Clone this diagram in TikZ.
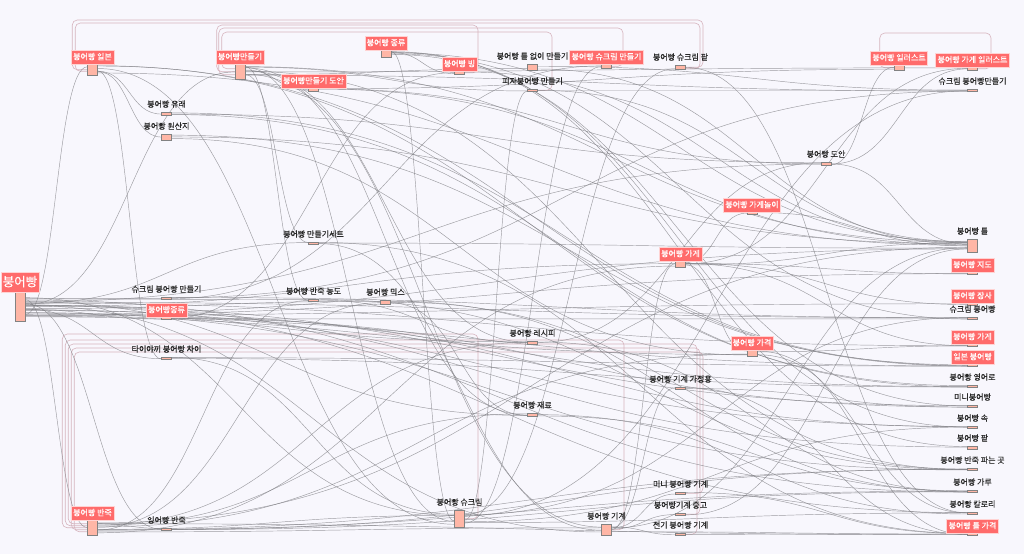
\documentclass[tikz,border=0pt]{standalone}
\usepackage{fontspec}
\setmainfont{Noto Sans CJK KR}
\newfontfamily\lblfont[FakeBold=0.35]{Noto Sans CJK KR}
\usetikzlibrary{calc}
\definecolor{bgc}{RGB}{248,247,253}
\definecolor{lred}{RGB}{255,107,107}
\definecolor{rfill}{RGB}{255,182,166}
\definecolor{rdraw}{RGB}{130,130,130}
\definecolor{edgec}{RGB}{125,125,130}
\definecolor{loopc}{RGB}{214,180,190}
\definecolor{txt}{RGB}{40,40,40}
\pgfdeclarelayer{bgl}
\pgfdeclarelayer{edl}
\pgfsetlayers{bgl,edl,main}
\tikzset{
 box/.style={draw=rdraw, fill=rfill, line width=0.5pt, minimum width=10pt, inner sep=0pt, anchor=north},
 redlbl/.style={fill=lred, draw=white!70!lred, line width=0.4pt, text=white, font=\lblfont\fontsize{8}{9}\selectfont, text height=6.6pt, text depth=1.2pt, inner xsep=2pt, inner ysep=3pt, anchor=south},
 blklbl/.style={text=txt, font=\lblfont\fontsize{8}{9}\selectfont, text height=6.6pt, text depth=1.2pt, inner sep=1pt, anchor=south, yshift=2.5pt},
 biglbl/.style={redlbl, font=\lblfont\fontsize{12.5}{13}\selectfont, text height=10.5pt, text depth=1.5pt, inner xsep=1.5pt, inner ysep=4pt},
 lnk/.style={draw=edgec, line width=0.45pt, opacity=0.75},
 loopln/.style={draw=loopc, line width=0.6pt, rounded corners=5pt},
}
\newcommand\nd[6]{\node[box,minimum height=#4pt] (#1) at (#2,#3) {}; \node[#6] (#1l) at (#1.north) {#5};}
\newcommand\lk[2]{\draw[lnk] let \p1=($(#1.north east)!0.15+0.7*rnd!(#1.south east)$), \p2=($(#2.north west)!0.15+0.7*rnd!(#2.south west)$) in (\p1) .. controls ({0.5*\x1+0.5*\x2},\y1) and ({0.5*\x1+0.5*\x2},\y2) .. (\p2);}
\begin{document}
\begin{tikzpicture}[x=1pt,y=-1pt]
\pgfmathsetseed{7}
\begin{pgfonlayer}{bgl}
\fill[bgc] (0,0) rectangle (1024,554);
\end{pgfonlayer}
\useasboundingbox (0,0) rectangle (1024,554);
% nodes
\nd{n1}{20}{292}{29}{붕어빵}{biglbl}
\nd{n2}{92.5}{64}{11}{붕어빵 일본}{redlbl}
\nd{n3}{240}{64}{15}{붕어빵만들기}{redlbl}
\nd{n4}{386}{50}{7}{붕어빵 종류}{redlbl}
\nd{n5}{313.5}{88}{3}{붕어빵만들기 도안}{redlbl}
\nd{n6}{459.5}{71}{3}{붕어빵 빙}{redlbl}
\nd{n7}{532.5}{64}{6}{붕어빵 틀 없이 만들기}{blklbl}
\nd{n8}{532.5}{89}{2}{피자붕어빵 만들기}{blklbl}
\nd{n9}{606.5}{64}{4}{붕어빵 슈크림 만들기}{redlbl}
\nd{n10}{680.5}{65}{4}{붕어빵 슈크림 팥}{blklbl}
\nd{n11}{899}{65}{5}{붕어빵 일러스트}{redlbl}
\nd{n12}{972.5}{67}{3}{붕어빵 가게 일러스트}{redlbl}
\nd{n13}{972.5}{89}{2}{슈크림 붕어빵만들기}{blklbl}
\nd{n14}{166.5}{112}{3}{붕어빵 유래}{blklbl}
\nd{n15}{166.5}{134}{6}{붕어빵 원산지}{blklbl}
\nd{n16}{826}{162}{3}{붕어빵 도안}{blklbl}
\nd{n17}{752}{212}{2}{붕어빵 가게놀이}{redlbl}
\nd{n18}{313.5}{242}{2}{붕어빵 만들기세트}{blklbl}
\nd{n19}{680.5}{261}{6}{붕어빵 가게}{redlbl}
\nd{n20}{972.5}{239}{13}{붕어빵 틀}{blklbl}
\nd{n21}{972.5}{272}{2}{붕어빵 지도}{redlbl}
\nd{n22}{166.5}{297}{1.5}{슈크림 붕어빵 만들기}{blklbl}
\nd{n23}{313.5}{299}{2}{붕어빵 반죽 농도}{blklbl}
\nd{n24}{385.5}{300}{4}{붕어빵 믹스}{blklbl}
\nd{n25}{166.5}{317}{2}{붕어빵종류}{redlbl}
\nd{n26}{972.5}{303}{2}{붕어빵 장사}{redlbl}
\nd{n27}{972.5}{317}{2}{슈크림 붕어빵}{blklbl}
\nd{n28}{532.5}{341}{3}{붕어빵 레시피}{blklbl}
\nd{n29}{752}{350}{6}{붕어빵 가격}{redlbl}
\nd{n30}{972.5}{344}{2}{붕어빵 가게}{redlbl}
\nd{n31}{972.5}{364}{2}{일본 붕어빵}{redlbl}
\nd{n32}{166.5}{357}{2}{타이야끼 붕어빵 차이}{blklbl}
\nd{n33}{680.5}{387}{1.5}{붕어빵 기계 가정용}{blklbl}
\nd{n34}{972.5}{385}{2}{붕어빵 영어로}{blklbl}
\nd{n35}{972.5}{405}{2}{미니붕어빵}{blklbl}
\nd{n36}{972.5}{426}{2}{붕어빵 속}{blklbl}
\nd{n37}{532.5}{413}{3}{붕어빵 재료}{blklbl}
\nd{n38}{972.5}{446}{3}{붕어빵 팥}{blklbl}
\nd{n39}{972.5}{468}{2}{붕어빵 반죽 파는 곳}{blklbl}
\nd{n40}{972.5}{490}{2}{붕어빵 가루}{blklbl}
\nd{n41}{680.5}{492}{2}{미니 붕어빵 기계}{blklbl}
\nd{n42}{459.5}{510}{17}{붕어빵 슈크림}{blklbl}
\nd{n43}{92.5}{520}{15}{붕어빵 반죽}{redlbl}
\nd{n44}{166.5}{528}{1.5}{잉어빵 반죽}{blklbl}
\nd{n45}{680.5}{513}{2}{붕어빵기계 중고}{blklbl}
\nd{n46}{972.5}{512}{2}{붕어빵 칼로리}{blklbl}
\nd{n47}{606.5}{524}{11}{붕어빵 기계}{blklbl}
\nd{n48}{680.5}{533}{2}{전기 붕어빵 기계}{blklbl}
\nd{n49}{972.5}{533}{2}{붕어빵 틀 가격}{redlbl}
\begin{pgfonlayer}{edl}
% loops (back links)
\draw[loopln] (n10.east) -| (703,20) -| ([xshift=-15pt]n2.west) -- (n2.west);
\draw[loopln] ([yshift=-1.5pt]n10.east) -| (700,23) -| ([xshift=-12pt,yshift=-1.5pt]n2.west) -- ([yshift=-1.5pt]n2.west);
\draw[loopln] (n6.east) -| (478,25) -| ([xshift=-18pt]n3.west) -- (n3.west);
\draw[loopln] (n8.east) -| (552,32) -| ([xshift=-13pt,yshift=3pt]n3.west) -- ([yshift=3pt]n3.west);
\draw[loopln] (n9.east) -| (623,28) -| ([xshift=-16pt,yshift=-3pt]n3.west) -- ([yshift=-3pt]n3.west);
\draw[loopln] (n12.east) -| (991,33) -| ([xshift=-14pt]n11.west) -- (n11.west);
\draw[loopln] (n42.east) -| (478,334) -| ([xshift=-25pt]n43.west) -- (n43.west);
\draw[loopln] (n47.east) -| (624,340) -| ([xshift=-22pt,yshift=2pt]n43.west) -- ([yshift=2pt]n43.west);
\draw[loopln] (n48.east) -| (697,344) -| ([xshift=-19pt,yshift=4pt]n43.west) -- ([yshift=4pt]n43.west);
\draw[loopln] (n45.east) -| (700,348) -| ([xshift=-16pt,yshift=-2pt]n43.west) -- ([yshift=-2pt]n43.west);
\draw[loopln] (n41.east) -| (703,352) -| ([xshift=-13pt,yshift=-4pt]n43.west) -- ([yshift=-4pt]n43.west);
% forward links
\foreach \t in {n2,n43,n22,n25,n32,n44,n3,n18,n23,n24,n42,n28,n37,n47,n19,n29,n16,n20,n26,n27,n30,n31,n34,n35,n36,n38,n39,n40,n46,n21}{\lk{n1}{\t}}
\foreach \t in {n14,n15,n31,n32,n20,n42,n34}{\lk{n2}{\t}}
\foreach \t in {n5,n18,n23,n7,n8,n13,n20,n28,n37,n42,n47,n39,n12}{\lk{n3}{\t}}
\foreach \t in {n6,n42,n35,n38,n36,n20,n27}{\lk{n4}{\t}}
\foreach \t in {n16,n11,n20}{\lk{n5}{\t}}
\lk{n6}{n20}
\lk{n7}{n20}\lk{n7}{n13}
\lk{n8}{n13}\lk{n8}{n20}
\lk{n10}{n46}
\foreach \t in {n31,n34,n16}{\lk{n14}{\t}}
\foreach \t in {n31,n20,n29}{\lk{n15}{\t}}
\foreach \t in {n11,n12,n20}{\lk{n16}{\t}}
\lk{n17}{n20}
\foreach \t in {n20,n47,n49}{\lk{n18}{\t}}
\foreach \t in {n17,n12,n21,n26,n30,n29,n20}{\lk{n19}{\t}}
\foreach \t in {n9,n13,n27}{\lk{n22}{\t}}
\foreach \t in {n28,n39}{\lk{n23}{\t}}
\foreach \t in {n39,n40,n37}{\lk{n24}{\t}}
\foreach \t in {n35,n36,n27,n6}{\lk{n25}{\t}}
\foreach \t in {n40,n16}{\lk{n28}{\t}}
\foreach \t in {n49,n30,n46}{\lk{n29}{\t}}
\foreach \t in {n31,n34,n42}{\lk{n32}{\t}}
\foreach \t in {n35,n49}{\lk{n33}{\t}}
\foreach \t in {n40,n46}{\lk{n37}{\t}}
\foreach \t in {n9,n10,n13,n27,n36,n46,n8}{\lk{n42}{\t}}
\foreach \t in {n44,n42,n47,n23,n24,n28,n37,n39,n40,n49,n19,n20,n29}{\lk{n43}{\t}}
\foreach \t in {n40,n39}{\lk{n44}{\t}}
\foreach \t in {n41,n45,n48,n33,n49,n20,n19}{\lk{n47}{\t}}
\lk{n41}{n49}
\lk{n45}{n20}
\lk{n48}{n49}
\end{pgfonlayer}
\end{tikzpicture}
\end{document}
